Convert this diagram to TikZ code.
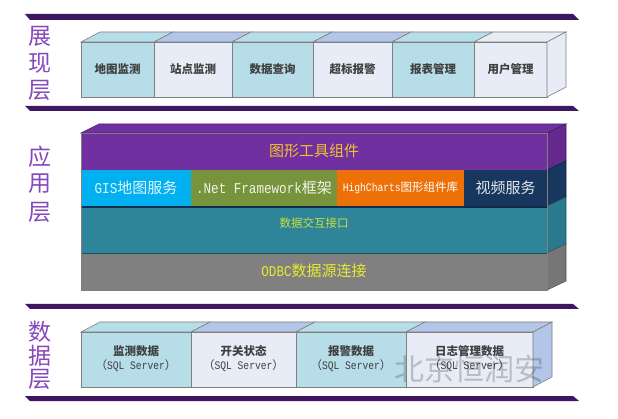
\documentclass[tikz,border=0pt]{standalone}
\usepackage{fontspec}
\setmainfont{Noto Sans CJK SC}
\newfontfamily\monofam[FakeStretch=0.84]{Liberation Mono}
\definecolor{barc}{HTML}{3F1760}
\definecolor{edgec}{HTML}{7F7F7F}
\definecolor{lblue}{HTML}{B7DDE8}
\definecolor{lav}{HTML}{E7ECF7}
\definecolor{lavtop}{HTML}{B3C6E7}
\definecolor{lighttop}{HTML}{E6EDF3}
\definecolor{layc}{HTML}{8748BC}
\definecolor{purp}{HTML}{7030A0}
\definecolor{purpside}{HTML}{64298F}
\definecolor{cyanc}{HTML}{00B0F0}
\definecolor{olive}{HTML}{77933C}
\definecolor{orangec}{HTML}{EE7008}
\definecolor{navy}{HTML}{17375E}
\definecolor{tealc}{HTML}{2E8499}
\definecolor{tealside}{HTML}{2A7A8E}
\definecolor{greyc}{HTML}{808080}
\definecolor{greyside}{HTML}{767676}
\definecolor{goldc}{HTML}{F2C12E}
\definecolor{ygreen}{HTML}{C8E03C}
\definecolor{yellowc}{HTML}{E8E830}
\definecolor{txtc}{HTML}{404040}
\newcommand\fsz[1]{\fontsize{#1}{#1}\selectfont}
\newcommand\layerbox[6]{%
  \filldraw[fill=#5,draw=edgec,line width=0.6pt] (#1,#3) rectangle (#2,#4);
  \filldraw[fill=#6,draw=edgec,line width=0.6pt] (#1,#3) -- (#1+19,#3-10) -- (#2+19,#3-10) -- (#2,#3) -- cycle;}
\newcommand\sideface[4]{% x ytop ybot color
  \filldraw[fill=#4,draw=edgec,line width=0.6pt] (#1,#2) -- (#1+19,#2-10) -- (#1+19,#3-10) -- (#1,#3) -- cycle;}
\newcommand\layerbar[2]{\fill[barc] (25,#1) -- (573,#1) -- (579,#2) -- (30,#2) -- cycle;}
\begin{document}
\begin{tikzpicture}[x=1pt,y=-1pt,inner sep=0pt,
  laylabel/.style={text=layc,font=\fsz{23}},
  boxlabel/.style={text=txtc,font=\fsz{11.5}\bfseries},
  sqllabel/.style={text=txtc,font=\fsz{11.5}},
  big/.style={font=\fsz{15}},
  small/.style={font=\fsz{11.5}}]
\useasboundingbox (0,0) rectangle (618,419);
\fill[white] (0,0) rectangle (618,419);
% bars
\layerbar{14}{20}
\layerbar{106}{111}
\layerbar{304}{309}
\layerbar{396}{401}
% layer labels
\node[laylabel] (l1a) at (40,36) {展};
\node[laylabel] (l1b) at (40,63) {现};
\node[laylabel] (l1c) at (40,90) {层};
\node[laylabel] (l2a) at (40,157) {应};
\node[laylabel] (l2b) at (40,184) {用};
\node[laylabel] (l2c) at (40,212) {层};
\node[laylabel] (l3a) at (40,332) {数};
\node[laylabel] (l3b) at (40,356) {据};
\node[laylabel] (l3c) at (40,379) {层};
% presentation layer boxes
\layerbox{81}{154}{42}{97}{lblue}{lblue}
\layerbox{154}{232}{42}{97}{lav}{lavtop}
\layerbox{232}{313}{42}{97}{lblue}{lblue}
\layerbox{313}{392}{42}{97}{lav}{lavtop}
\layerbox{392}{474}{42}{97}{lblue}{lblue}
\layerbox{474}{547}{42}{97}{lav}{lighttop}
\sideface{547}{42}{97}{lav}
\node[boxlabel] (p1) at (117.5,69) {地图监测};
\node[boxlabel] (p2) at (193,69) {站点监测};
\node[boxlabel] (p3) at (272.5,69) {数据查询};
\node[boxlabel] (p4) at (352.5,69) {超标报警};
\node[boxlabel] (p5) at (433,69) {报表管理};
\node[boxlabel] (p6) at (510.5,69) {用户管理};
% application layer
\filldraw[fill=purp,draw=purpside!80!black,line width=0.6pt] (81,133) -- (99,124) -- (566,124) -- (547,133) -- cycle;
\filldraw[fill=purpside,draw=purpside!70!black,line width=0.6pt] (547,133) -- (566,124) -- (566,161) -- (547,170) -- cycle;
\filldraw[fill=navy,draw=navy!70!black,line width=0.6pt] (547,170) -- (566,161) -- (566,197) -- (547,206) -- cycle;
\filldraw[fill=tealside,draw=tealside!70!black,line width=0.6pt] (547,206) -- (566,197) -- (566,244) -- (547,253) -- cycle;
\filldraw[fill=greyside,draw=greyside!70!black,line width=0.6pt] (547,253) -- (566,244) -- (566,281) -- (547,290) -- cycle;
\fill[purp] (81,133) rectangle (547,170);
\fill[cyanc] (81,170) rectangle (191,206);
\fill[olive] (191,170) rectangle (337,206);
\fill[orangec] (337,170) rectangle (464,206);
\fill[navy] (464,170) rectangle (547,206);
\fill[tealc] (81,206) rectangle (547,253);
\draw[navy!80!black,line width=1.5pt] (81,207) -- (547,207);
\fill[greyc] (81,253) rectangle (547,290);
\draw[tealc!60!black,line width=0.6pt] (81,253) -- (547,253);
\draw[edgec,line width=0.6pt] (81,133) rectangle (547,290);
\node[big,text=goldc] (a1) at (314,151) {图形工具组件};
\node[big,text=white!90!cyanc] (a2) at (136,188) {{\monofam GIS}地图服务};
\node[big,text=white!90!olive] (a3) at (264,188) {{\monofam .Net Framework}框架};
\node[small,text=white] (a4) at (400.5,188) {{\monofam HighCharts}图形组件库};
\node[big,text=white!88!navy] (a5) at (505.5,188) {视频服务};
\node[small,text=ygreen] (a6) at (314,223) {数据交互接口};
\node[big,text=yellowc] (a7) at (314,271) {{\monofam ODBC}数据源连接};
% data layer boxes
\layerbox{81}{191}{332}{387}{lblue}{lblue}
\layerbox{191}{296}{332}{387}{lav}{lavtop}
\layerbox{296}{406}{332}{387}{lblue}{lblue}
\layerbox{406}{533}{332}{387}{lav}{lavtop}
\sideface{533}{332}{387}{lavtop}
\node[boxlabel] (d1) at (136,351) {监测数据};
\node[sqllabel] (d1s) at (136,365.5) {（{\monofam SQL Server}）};
\node[boxlabel] (d2) at (243.5,351) {开关状态};
\node[sqllabel] (d2s) at (243.5,365.5) {（{\monofam SQL Server}）};
\node[boxlabel] (d3) at (351,351) {报警数据};
\node[sqllabel] (d3s) at (351,365.5) {（{\monofam SQL Server}）};
\node[boxlabel] (d4) at (469.5,351) {日志管理数据};
\node[sqllabel] (d4s) at (469.5,365.5) {（{\monofam SQL Server}）};
% watermark
\node[font=\fsz{30},text=black,opacity=0.2] (wm) at (469,369) {北京恒润安};
\end{tikzpicture}
\end{document}
